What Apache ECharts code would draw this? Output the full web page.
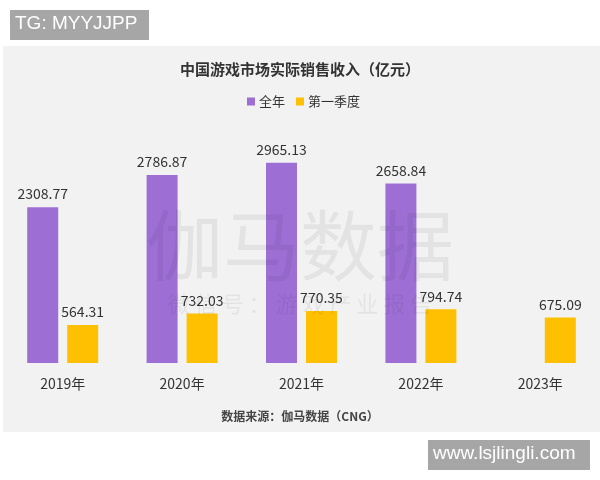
<!DOCTYPE html>
<html>
<head>
<meta charset="utf-8">
<script src="https://cdn.jsdelivr.net/npm/echarts@6/dist/echarts.min.js"></script>
<style>
html,body{margin:0;padding:0;background:#fff;}
#chart{width:600px;height:480px;}
</style>
</head>
<body>
<div id="chart"></div>
<script>
var years = ['2019年', '2020年', '2021年', '2022年', '2023年'];
var fullYear = [2308.77, 2786.87, 2965.13, 2658.84, null];
var firstQuarter = [564.31, 732.03, 770.35, 794.74, 675.09];
var seriesNames = ['全年', '第一季度'];

var font = 'Noto Sans CJK SC';
var chart = echarts.init(document.getElementById('chart'));

chart.setOption({
    backgroundColor: '#fff',
    animation: false,
    textStyle: { fontFamily: font },
    title: {
        text: '中国游戏市场实际销售收入（亿元）',
        left: 'center',
        top: 62,
        padding: 0,
        textStyle: { fontSize: 15, fontWeight: 'bold', color: '#333', fontFamily: font }
    },
    legend: {
        data: seriesNames,
        left: 247,
        top: 95,
        padding: 0,
        itemWidth: 8,
        itemHeight: 8,
        itemGap: 11,
        icon: 'rect',
        textStyle: { fontSize: 13, color: '#333', fontFamily: font, padding: [0, 0, 0, -1] }
    },
    grid: { left: 3, right: 0, top: 160.5, bottom: 117 },
    xAxis: {
        type: 'category',
        data: years,
        axisLine: { show: false },
        axisTick: { show: false },
        axisLabel: { fontSize: 14, color: '#333', margin: 14, fontFamily: font }
    },
    yAxis: {
        type: 'value',
        min: 0,
        max: 3000,
        show: false,
        splitLine: { show: false }
    },
    graphic: [
        // grey panel
        { type: 'rect', left: 3, top: 46, z: -10, shape: { width: 597, height: 386 }, style: { fill: '#f2f2f2' } },
        // top-left tag
        { type: 'rect', left: 10, top: 10, z: 10, shape: { width: 139, height: 30 }, style: { fill: '#a6a6a6' } },
        { type: 'text', left: 15, top: 14, z: 11, style: { text: 'TG: MYYJJPP', fill: '#fff', font: '19px "Liberation Sans", Arial, sans-serif' } },
        // bottom-right tag
        { type: 'rect', left: 428, top: 440, z: 10, shape: { width: 162, height: 30 }, style: { fill: '#a6a6a6' } },
        { type: 'text', left: 433, top: 444, z: 11, style: { text: 'www.lsjlingli.com', fill: '#fff', font: '19px "Liberation Sans", Arial, sans-serif' } },
        // source
        { type: 'text', left: 'center', top: 410, z: 10, style: { text: '数据来源：伽马数据（CNG）', fill: '#444', font: 'bold 12px "Noto Sans CJK SC"' } },
        // watermark
        { type: 'text', left: 'center', top: 207, z: 100, style: { text: '伽马数据', fill: 'rgba(0,0,0,0.06)', font: '77px "Noto Sans CJK SC"' } },
        { type: 'text', left: 'center', top: 293, z: 100, style: { text: '微 信 号 ： 游 戏 产 业 报 告', fill: 'rgba(0,0,0,0.06)', font: '22px "Noto Sans CJK SC"' } }
    ],
    series: [
        {
            name: seriesNames[0],
            type: 'bar',
            data: fullYear,
            barWidth: 31,
            barGap: '29%',
            itemStyle: { color: '#9d6fd5' },
            label: { show: true, position: 'top', distance: 6, fontSize: 14, color: '#333', fontFamily: font }
        },
        {
            name: seriesNames[1],
            type: 'bar',
            data: firstQuarter,
            barWidth: 31,
            itemStyle: { color: '#fec000' },
            label: { show: true, position: 'top', distance: 6, fontSize: 14, color: '#333', fontFamily: font }
        }
    ]
});
</script>
</body>
</html>
